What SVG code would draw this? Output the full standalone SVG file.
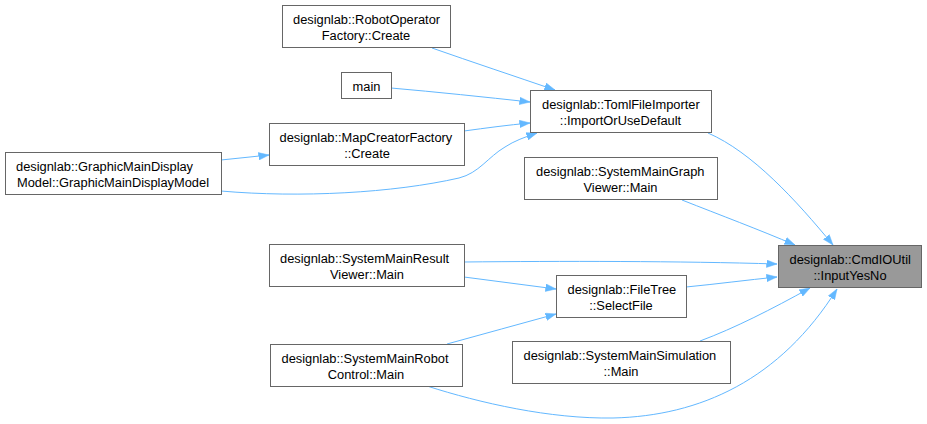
<svg xmlns="http://www.w3.org/2000/svg" width="927" height="424" viewBox="0 0 927 424">
<style>
.node rect{fill:#ffffff;stroke:#666666;stroke-width:1}
.node.sel rect{fill:#999999}
.node text{font-family:"Liberation Sans",Arial,sans-serif;font-size:12.85px;fill:#000000}
.s{text-anchor:start}
.m{text-anchor:middle}
#edges path{fill:none;stroke:#63b8ff;stroke-width:1;marker-end:url(#ah)}
</style>
<defs>
<marker id="ah" markerUnits="userSpaceOnUse" markerWidth="11" markerHeight="8" refX="10.5" refY="3.75" orient="auto" viewBox="0 0 11 7.5">
<path d="M0,0 L10.5,3.75 L0,7.5 z" fill="#63b8ff" stroke="#63b8ff" stroke-width="0.5"/>
</marker>
</defs>
<rect width="927" height="424" fill="#ffffff"/>
<g id="edges">
<path d="M708,133 C752,152 796,200 833,245"/>
<path d="M682,200 C720,215 760,230 795,245"/>
<path d="M464,262 C560,261 680,261 777,264"/>
<path d="M464,277 C495,281 525,285 556,289"/>
<path d="M686,287 C717,284 747,280 777,277"/>
<path d="M447,344 C483,334 520,324 556,314"/>
<path d="M700,341 C735,328 772,309 810,288"/>
<path d="M427,386 C480,403 550,419 613,418 C700,416 780,380 837,289"/>
<path d="M432,48 C472,62 514,76 555,90"/>
<path d="M391,88 C437,92 484,97 530,102"/>
<path d="M464,131 C486,128 508,125 530,123"/>
<path d="M221,160 C237,158 253,157 269,155"/>
<path d="M221,191 C300,198 393,193 459,178 C479,173 488,157 505,147 C514,141 525,137 537,133"/>
</g>
<g id="n_robotop" class="node"><rect x="282.5" y="5.5" width="168" height="42"/><text class="s" x="293" y="24">designlab::RobotOperator</text><text class="m" x="366" y="39.5">Factory::Create</text></g>
<g id="n_main" class="node"><rect x="341.5" y="72.5" width="50" height="26"/><text class="m" x="366.5" y="90.5">main</text></g>
<g id="n_mapcreator" class="node"><rect x="269.5" y="123.5" width="195" height="42"/><text class="s" x="279.5" y="142">designlab::MapCreatorFactory</text><text class="m" x="367" y="157.5">::Create</text></g>
<g id="n_graphicmain" class="node"><rect x="5.5" y="152.5" width="216" height="42"/><text class="s" x="16" y="171">designlab::GraphicMainDisplay</text><text class="m" x="113" y="186.5">Model::GraphicMainDisplayModel</text></g>
<g id="n_toml" class="node"><rect x="530.5" y="90.5" width="181" height="42"/><text class="s" x="542" y="109">designlab::TomlFileImporter</text><text class="m" x="620.5" y="124.5">::ImportOrUseDefault</text></g>
<g id="n_graphviewer" class="node"><rect x="524.5" y="157.5" width="193" height="42"/><text class="s" x="536" y="176">designlab::SystemMainGraph</text><text class="m" x="620.5" y="191.5">Viewer::Main</text></g>
<g id="n_resultviewer" class="node"><rect x="269.5" y="244.5" width="195" height="42"/><text class="s" x="280" y="263">designlab::SystemMainResult</text><text class="m" x="367" y="278.5">Viewer::Main</text></g>
<g id="n_filetree" class="node"><rect x="556.5" y="275.5" width="130" height="42"/><text class="s" x="567.5" y="294">designlab::FileTree</text><text class="m" x="621" y="309.5">::SelectFile</text></g>
<g id="n_robotcontrol" class="node"><rect x="270.5" y="344.5" width="192" height="42"/><text class="s" x="281.5" y="363">designlab::SystemMainRobot</text><text class="m" x="366" y="378.5">Control::Main</text></g>
<g id="n_simulation" class="node"><rect x="512.5" y="341.5" width="218" height="42"/><text class="s" x="523.5" y="360">designlab::SystemMainSimulation</text><text class="m" x="621" y="375.5">::Main</text></g>
<g id="n_cmdioutil" class="node sel"><rect x="778.5" y="245.5" width="143" height="42"/><text class="s" x="789.5" y="264">designlab::CmdIOUtil</text><text class="m" x="850" y="279.5">::InputYesNo</text></g>
</svg>
